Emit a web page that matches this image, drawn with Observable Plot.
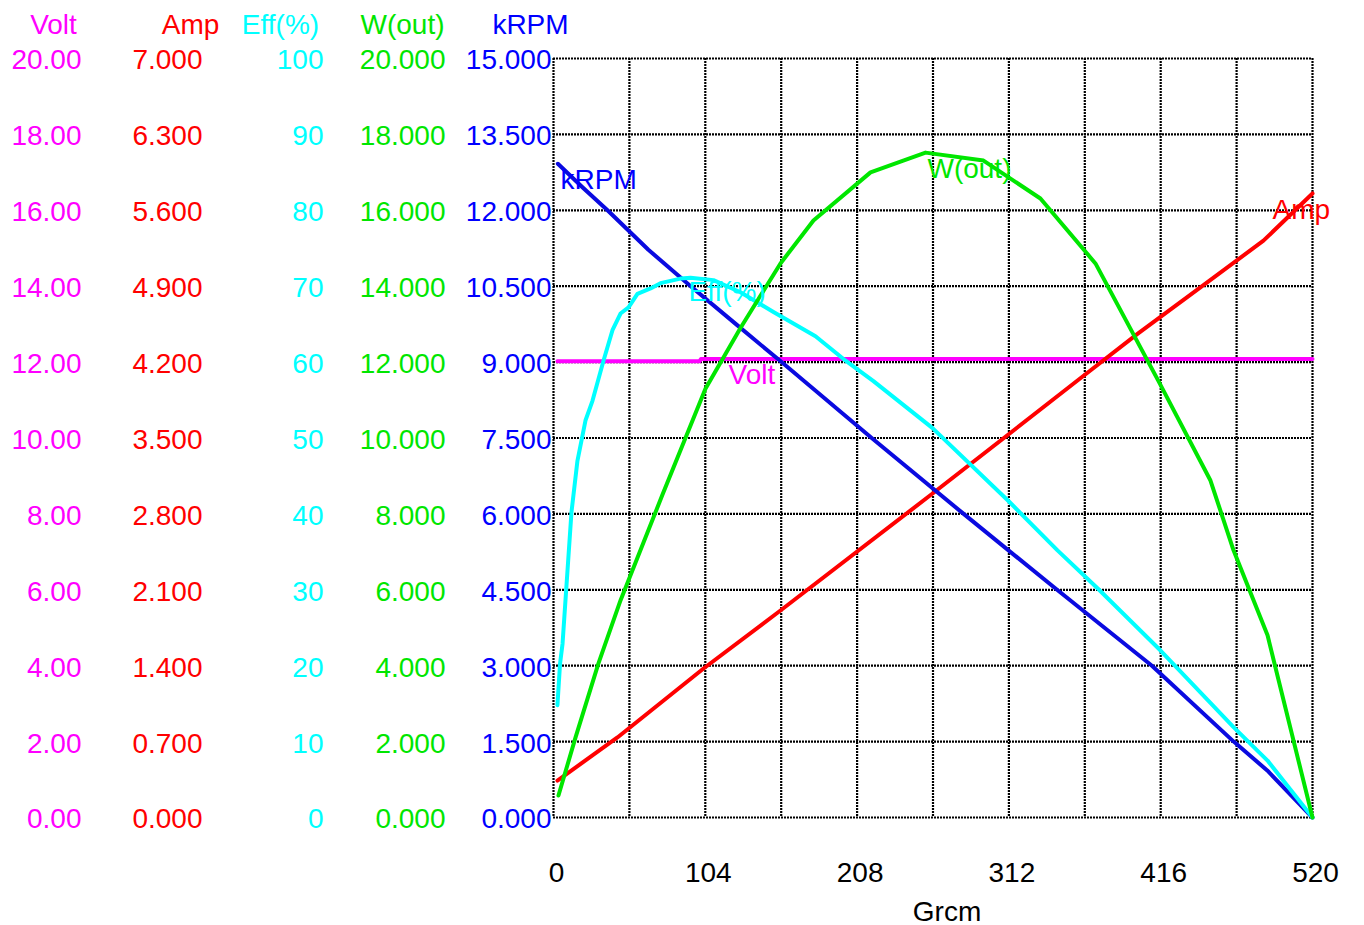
<!DOCTYPE html>
<html><head><meta charset="utf-8">
<script src="https://cdn.jsdelivr.net/npm/d3@7"></script>
<script src="https://cdn.jsdelivr.net/npm/@observablehq/plot@0.6"></script>
<style>
html,body{margin:0;padding:0;background:#fff}
svg{display:block}
</style>
</head><body><div id="chart"></div>
<script>
// Axis maxima
const voltMax = 20, ampMax = 7, effMax = 100, wMax = 20, kMax = 15;

// Tick labels (left axes, bottom to top)
const voltTicks = ["0.00","2.00","4.00","6.00","8.00","10.00","12.00","14.00","16.00","18.00","20.00"];
const ampTicks  = ["0.000","0.700","1.400","2.100","2.800","3.500","4.200","4.900","5.600","6.300","7.000"];
const effTicks  = ["0","10","20","30","40","50","60","70","80","90","100"];
const wTicks    = ["0.000","2.000","4.000","6.000","8.000","10.000","12.000","14.000","16.000","18.000","20.000"];
const kTicks    = ["0.000","1.500","3.000","4.500","6.000","7.500","9.000","10.500","12.000","13.500","15.000"];
const xTicks    = [0, 104, 208, 312, 416, 520];
const xGrid     = [0, 52, 104, 156, 208, 260, 312, 364, 416, 468, 520];

// Series (torque in Grcm)
const voltTorque = [2.7, 100, 101, 520];
const voltValues = [12.02, 12.02, 12.08, 12.08];

const ampTorque = [2.7, 43.8, 102.8, 155.5, 259.7, 359.0, 400.1, 445.3, 486.4, 520];
const ampValues = [0.341, 0.738, 1.374, 1.909, 2.988, 4.03, 4.46, 4.91, 5.32, 5.755];

const effTorque = [2.7, 4.5, 6.2, 8.2, 12.3, 16.4, 21.9, 26.7, 34.3, 40.4, 45.9, 51.4, 57.5, 66.5, 73.3, 87.0, 93.9, 109.6, 128.1, 150.7, 179.5, 198.7, 219.2, 259.7, 311.7, 345.3, 372.7, 415.9, 465.9, 489.2, 520];
const effValues = [14.8, 20.3, 22.9, 28.6, 40.2, 47.0, 52.3, 54.9, 60.2, 64.2, 66.4, 67.2, 69.0, 69.7, 70.4, 71.0, 71.1, 70.8, 69.2, 66.6, 63.4, 60.4, 57.5, 51.3, 41.7, 35.2, 30.2, 22.0, 11.9, 7.5, 0];

const wTorque = [3.4, 15.1, 30.8, 45.9, 74.7, 104.1, 128.1, 155.5, 178.1, 217.2, 254.9, 294.6, 333.6, 371.3, 414.5, 450.1, 465.9, 489.2, 520];
const wValues = [0.58, 2.11, 4.06, 5.72, 8.51, 11.3, 12.9, 14.6, 15.73, 17.0, 17.52, 17.31, 16.31, 14.6, 11.5, 8.88, 7.04, 4.80, 0];

const kTorque = [3, 20, 37, 65, 94, 125, 155, 218, 281, 345, 410, 466, 489, 520];
const kValues = [12.92, 12.45, 12.0, 11.22, 10.5, 9.75, 9.03, 7.5, 6.0, 4.5, 3.0, 1.5, 0.93, 0];

// In-plot curve labels
const curveNames  = ["kRPM", "W(out)", "Eff(%)", "Volt", "Amp"];
const labelTorque = [4.8, 256.2, 92.5, 119.9, 492.6];
const labelValues = [12.59, 17.1, 69.2, 11.65, 5.6];

const colors = {Volt: "#ff00ff", Amp: "#ff0000", "Eff(%)": "#00ffff", "W(out)": "#00e600", kRPM: "#0000ff"};
const maxes  = {Volt: voltMax, Amp: ampMax, "Eff(%)": effMax, "W(out)": wMax, kRPM: kMax};

const toRows = (name, xs, ys) => xs.map((x, i) => ({name, x, v: ys[i] / maxes[name]}));
const voltRows = toRows("Volt", voltTorque, voltValues);
const ampRows  = toRows("Amp", ampTorque, ampValues);
const effRows  = toRows("Eff(%)", effTorque, effValues);
const wRows    = toRows("W(out)", wTorque, wValues);
const kRows    = toRows("kRPM", kTorque, kValues);
const labelRows = curveNames.map((n, i) => ({name: n, x: labelTorque[i], v: labelValues[i] / maxes[n]}));

const axisCols = [
  {name: "Volt",   ticks: voltTicks, max: voltMax, right: 81,  head: 53},
  {name: "Amp",    ticks: ampTicks,  max: ampMax,  right: 202, head: 190},
  {name: "Eff(%)", ticks: effTicks,  max: effMax,  right: 323, head: 280},
  {name: "W(out)", ticks: wTicks,    max: wMax,    right: 445, head: 402},
  {name: "kRPM",   ticks: kTicks,    max: kMax,    right: 551, head: 530}
];
const ML = 553;

const axisMarks = axisCols.flatMap(c => [
  Plot.text(c.ticks, {y: d => +d / c.max, text: d => d, frameAnchor: "left", dx: c.right - ML, dy: 2,
    textAnchor: "end", lineAnchor: "middle", fill: colors[c.name], fontSize: 28}),
  Plot.text([c.name], {frameAnchor: "top-left", dx: c.head - ML, dy: -33, text: d => d,
    textAnchor: "middle", lineAnchor: "middle", fill: colors[c.name], fontSize: 28})
]);

const gridStyle = {stroke: "black", strokeWidth: 2.2, strokeDasharray: "2,1", strokeOpacity: 1};
const lineW = 4;

const chart = Plot.plot({
  width: 1364, height: 925,
  marginLeft: ML, marginRight: 52, marginTop: 58, marginBottom: 108,
  x: {domain: [0, 520], axis: null},
  y: {domain: [0, 1], axis: null},
  style: {fontFamily: "'Liberation Sans', Arial, Helvetica, sans-serif", fontSize: "28px", background: "white", overflow: "visible"},
  marks: [
    Plot.ruleX(xGrid, {x: d => d, ...gridStyle}),
    Plot.ruleY(kTicks, {y: d => +d / kMax, ...gridStyle}),
    Plot.line(voltRows, {x: "x", y: "v", stroke: colors.Volt, strokeWidth: lineW}),
    Plot.line(ampRows, {x: "x", y: "v", stroke: colors.Amp, strokeWidth: lineW}),
    Plot.line(kRows, {x: "x", y: "v", stroke: "#0a0ae0", strokeWidth: lineW}),
    Plot.line(effRows, {x: "x", y: "v", stroke: colors["Eff(%)"], strokeWidth: lineW}),
    Plot.line(wRows, {x: "x", y: "v", stroke: colors["W(out)"], strokeWidth: lineW}),
    Plot.text(labelRows, {x: "x", y: "v", text: "name", fill: d => colors[d.name], textAnchor: "start", lineAnchor: "middle", fontSize: 28}),
    ...axisMarks,
    Plot.text(xTicks, {x: d => d, text: d => String(d), frameAnchor: "bottom", dy: 56, dx: 3, textAnchor: "middle", lineAnchor: "middle", fill: "black", fontSize: 28}),
    Plot.text(["Grcm"], {frameAnchor: "bottom", dx: 14, dy: 95, text: d => d, textAnchor: "middle", lineAnchor: "middle", fill: "black", fontSize: 28})
  ]
});
document.getElementById("chart").appendChild(chart);
</script>
</body></html>
